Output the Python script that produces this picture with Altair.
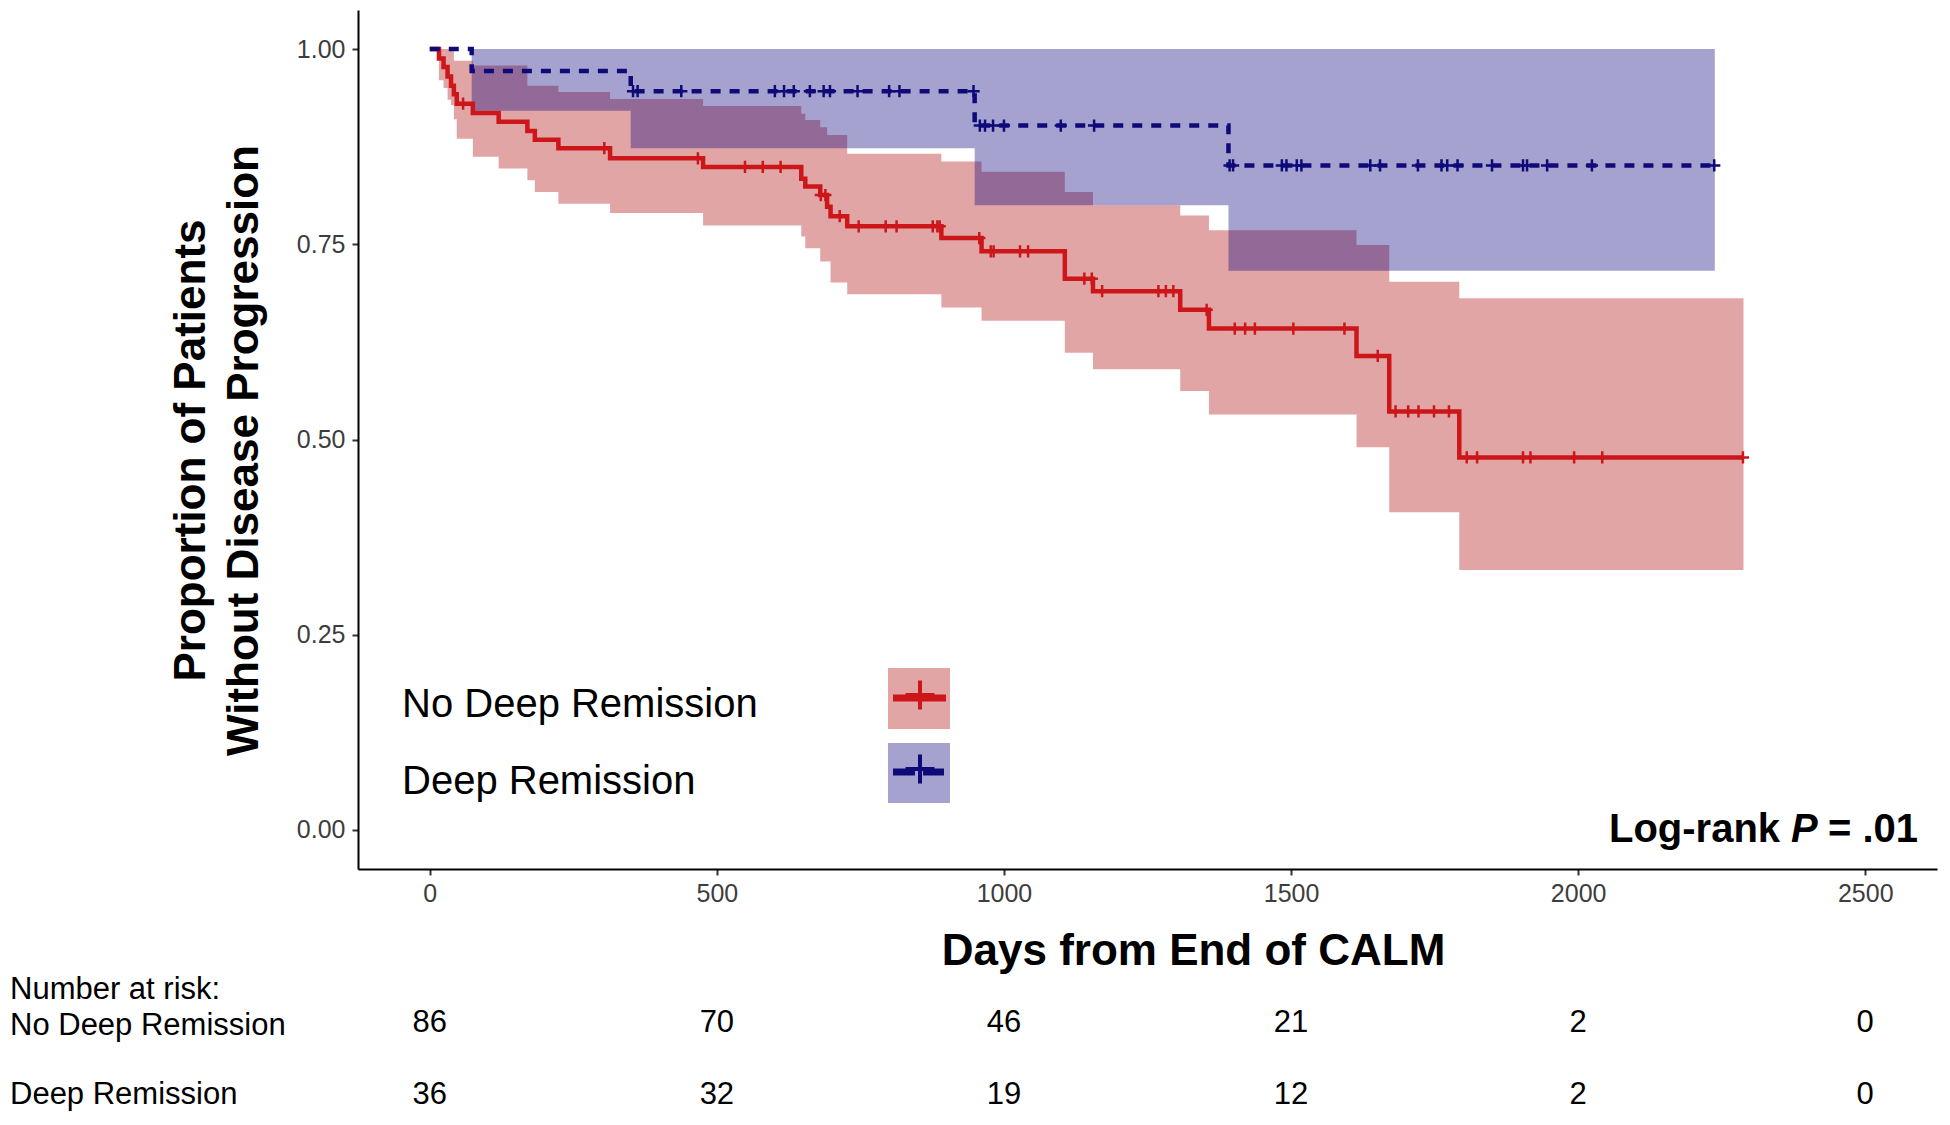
import altair as alt
import numpy as np
import pandas as pd

# ---------------- data ----------------
groups = ["No Deep Remission", "Deep Remission"]

# No Deep Remission: Kaplan-Meier steps (day, survival, CI upper, CI lower)
nd_day = [0, 16, 24, 31, 37, 42, 47, 75, 120, 170, 183, 224, 314, 476, 647, 654, 680, 692, 698, 727,
          891, 961, 1106, 1155, 1307, 1357, 1614, 1671, 1793, 2288]
nd_surv = [1.0, 0.988, 0.977, 0.965, 0.953, 0.942, 0.930, 0.918, 0.907, 0.895, 0.884, 0.873, 0.860, 0.849,
           0.834, 0.824, 0.813, 0.798, 0.786, 0.773, 0.758, 0.741, 0.706, 0.690, 0.666, 0.642, 0.607,
           0.536, 0.477, 0.477]
nd_upper = [1.0, 1.0, 1.0, 1.0, 1.0, 0.985, 0.985, 0.979, 0.979, 0.953, 0.953, 0.945, 0.936, 0.927,
            0.917, 0.909, 0.900, 0.890, 0.890, 0.866, 0.856, 0.843, 0.817, 0.800, 0.787, 0.768, 0.749,
            0.702, 0.681, 0.681]
nd_lower = [1.0, 0.960, 0.950, 0.935, 0.928, 0.910, 0.885, 0.862, 0.847, 0.832, 0.817, 0.802, 0.790,
            0.774, 0.760, 0.745, 0.728, 0.728, 0.701, 0.686, 0.669, 0.652, 0.611, 0.590, 0.562, 0.532,
            0.490, 0.407, 0.333, 0.333]
nd_censor = [58, 304, 467, 549, 580, 611, 681, 689, 714, 747, 794, 813, 876, 884, 888, 957, 977, 982,
             1028, 1042, 1140, 1153, 1171, 1269, 1282, 1295, 1353, 1402, 1420, 1437, 1504, 1593, 1651,
             1682, 1704, 1722, 1749, 1775, 1806, 1824, 1904, 1917, 1993, 2042, 2287]

# Deep Remission
dr_day = [0, 73, 350, 949, 1391, 2238]
dr_surv = [1.0, 0.972, 0.946, 0.902, 0.851, 0.851]
dr_upper = [1.0, 1.0, 1.0, 1.0, 1.0, 1.0]
dr_lower = [1.0, 0.921, 0.873, 0.800, 0.716, 0.716]
dr_censor = [354, 362, 438, 601, 617, 634, 662, 686, 697, 745, 800, 818, 947, 958, 967, 981, 1000,
             1099, 1157, 1393, 1399, 1484, 1492, 1510, 1518, 1638, 1655, 1721, 1762, 1772, 1790, 1850,
             1904, 1911, 1946, 2024, 2237]

# number at risk table
risk_days = [0, 500, 1000, 1500, 2000, 2500]
risk_nd = [86, 70, 46, 21, 2, 0]
risk_dr = [36, 32, 19, 12, 2, 0]

y_ticks = [0.0, 0.25, 0.5, 0.75, 1.0]
y_title = ["Proportion of Patients", "Without Disease Progression"]
x_title = "Days from End of CALM"
risk_header = "Number at risk:"
logrank_parts = ["Log-rank", "P", "= .01"]

# ---------------- styling ----------------
line_colors = ["#CC161A", "#0E0A78"]
band_colors = ["#B00A0A", "#0A0480"]
band_opacity = 0.37
FONT = "Liberation Sans"
W, H = 1579, 859
CROSS = "M-1,0L1,0M0,-1L0,1"
TABLE_FS = 31


def km_frame(days, surv, upper, lower, name):
    return pd.DataFrame({"day": days, "surv": surv, "upper": upper, "lower": lower, "group": name})


def censor_frame(cdays, days, surv, name):
    idx = np.searchsorted(np.array(days), np.array(cdays), side="right") - 1
    return pd.DataFrame({"day": cdays, "surv": np.array(surv)[idx], "group": name})


km_nd = km_frame(nd_day, nd_surv, nd_upper, nd_lower, groups[0])
km_dr = km_frame(dr_day, dr_surv, dr_upper, dr_lower, groups[1])
cz_nd = censor_frame(nd_censor, nd_day, nd_surv, groups[0])
cz_dr = censor_frame(dr_censor, dr_day, dr_surv, groups[1])
risk_df_nd = pd.DataFrame({"day": risk_days, "n": risk_nd})
risk_df_dr = pd.DataFrame({"day": risk_days, "n": risk_dr})

x_scale = alt.Scale(domain=[-125, 2625], nice=False, zero=False)
y_scale = alt.Scale(domain=[-0.05, 1.05], nice=False, zero=False)

x_axis = alt.Axis(
    values=risk_days, format="d", grid=False, title=x_title,
    labelFontSize=25, labelColor="#3D3D3D", labelPadding=6, labelFont=FONT,
    tickSize=6, tickWidth=2, tickColor="#333333", domainColor="black", domainWidth=2,
    titleFontSize=44, titleFontWeight="bold", titleColor="black", titleFont=FONT,
    titleX=835, titleY=95, titleAlign="center", titleBaseline="alphabetic",
)
y_axis = alt.Axis(
    values=y_ticks, format=".2f", grid=False, title=y_title,
    labelFontSize=25, labelColor="#3D3D3D", labelPadding=7, labelFont=FONT,
    tickSize=6, tickWidth=2, tickColor="#333333", domainColor="black", domainWidth=2,
    titleFontSize=44, titleFontWeight="bold", titleColor="black", titleFont=FONT,
    titleAngle=270, titleX=-167, titleY=440, titleAlign="center", titleBaseline="middle",
    titleLineHeight=53,
)

X = alt.X("day:Q", scale=x_scale, axis=x_axis)
Xs = alt.X("day:Q", scale=x_scale)

band_nd = alt.Chart(km_nd).mark_area(interpolate="step-after", color=band_colors[0],
                                     opacity=band_opacity).encode(
    x=X, y=alt.Y("lower:Q", scale=y_scale, axis=y_axis), y2="upper:Q")
band_dr = alt.Chart(km_dr).mark_area(interpolate="step-after", color=band_colors[1],
                                     opacity=band_opacity).encode(
    x=Xs, y=alt.Y("lower:Q", scale=y_scale), y2="upper:Q")

line_nd = alt.Chart(km_nd).mark_line(interpolate="step-after", color=line_colors[0],
                                     strokeWidth=4.5).encode(
    x=Xs, y=alt.Y("surv:Q", scale=y_scale))
line_dr = alt.Chart(km_dr).mark_line(interpolate="step-after", color=line_colors[1],
                                     strokeWidth=4.5, strokeDash=[10, 9]).encode(
    x=Xs, y=alt.Y("surv:Q", scale=y_scale))

cens_nd = alt.Chart(cz_nd).mark_point(shape=CROSS, size=150, filled=False, color=line_colors[0],
                                      strokeWidth=2.5, opacity=1).encode(
    x=Xs, y=alt.Y("surv:Q", scale=y_scale))
cens_dr = alt.Chart(cz_dr).mark_point(shape=CROSS, size=150, filled=False, color=line_colors[1],
                                      strokeWidth=2.5, opacity=1).encode(
    x=Xs, y=alt.Y("surv:Q", scale=y_scale))

# ---------------- legend (inside the panel) ----------------
leg_nd = pd.DataFrame({"group": [groups[0]]})
leg_dr = pd.DataFrame({"group": [groups[1]]})

legend_layers = [
    alt.Chart(leg_nd).mark_rect(color=band_colors[0], opacity=band_opacity).encode(
        x=alt.value(530), x2=alt.value(592), y=alt.value(658), y2=alt.value(719)),
    alt.Chart(leg_dr).mark_rect(color=band_colors[1], opacity=band_opacity).encode(
        x=alt.value(530), x2=alt.value(592), y=alt.value(733), y2=alt.value(793)),
    alt.Chart(leg_nd).mark_rule(color=line_colors[0], strokeWidth=7).encode(
        x=alt.value(535), x2=alt.value(588), y=alt.value(688)),
    alt.Chart(leg_dr).mark_rule(color=line_colors[1], strokeWidth=7, strokeDash=[22, 8]).encode(
        x=alt.value(535), x2=alt.value(586), y=alt.value(762)),
    alt.Chart(leg_nd).mark_point(shape=CROSS, size=841, filled=False, color=line_colors[0],
                                 strokeWidth=4, opacity=1).encode(
        x=alt.value(562), y=alt.value(685)),
    alt.Chart(leg_dr).mark_point(shape=CROSS, size=841, filled=False, color=line_colors[1],
                                 strokeWidth=4, opacity=1).encode(
        x=alt.value(562), y=alt.value(759)),
    alt.Chart(leg_nd).mark_text(align="left", baseline="middle", fontSize=40, color="black").encode(
        x=alt.value(44), y=alt.value(695), text="group:N"),
    alt.Chart(leg_dr).mark_text(align="left", baseline="middle", fontSize=40, color="black").encode(
        x=alt.value(44), y=alt.value(772), text="group:N"),
]

# ---------------- log-rank annotation ----------------
lr = [pd.DataFrame({"t": [p]}) for p in logrank_parts]
logrank_layers = [
    alt.Chart(lr[0]).mark_text(align="left", baseline="alphabetic", fontSize=40, fontWeight="bold",
                               color="black").encode(x=alt.value(1251), y=alt.value(832), text="t:N"),
    alt.Chart(lr[1]).mark_text(align="left", baseline="alphabetic", fontSize=40, fontWeight="bold",
                               fontStyle="italic", color="black").encode(
        x=alt.value(1433), y=alt.value(832), text="t:N"),
    alt.Chart(lr[2]).mark_text(align="left", baseline="alphabetic", fontSize=40, fontWeight="bold",
                               color="black").encode(x=alt.value(1470), y=alt.value(832), text="t:N"),
]

# ---------------- number at risk table ----------------
hdr = pd.DataFrame({"t": [risk_header]})
risk_layers = [
    alt.Chart(hdr).mark_text(align="left", baseline="middle", fontSize=TABLE_FS, color="black").encode(
        x=alt.value(-348), y=alt.value(980), text="t:N"),
    alt.Chart(leg_nd).mark_text(align="left", baseline="middle", fontSize=TABLE_FS, color="black").encode(
        x=alt.value(-348), y=alt.value(1016), text="group:N"),
    alt.Chart(leg_dr).mark_text(align="left", baseline="middle", fontSize=TABLE_FS, color="black").encode(
        x=alt.value(-348), y=alt.value(1085), text="group:N"),
    alt.Chart(risk_df_nd).mark_text(align="center", baseline="middle", fontSize=TABLE_FS,
                                    color="black").encode(
        x=Xs, y=alt.value(1013), text="n:Q"),
    alt.Chart(risk_df_dr).mark_text(align="center", baseline="middle", fontSize=TABLE_FS,
                                    color="black").encode(
        x=Xs, y=alt.value(1085), text="n:Q"),
]

chart = alt.layer(
    band_nd, band_dr, line_nd, line_dr, cens_nd, cens_dr,
    *legend_layers, *logrank_layers, *risk_layers,
).properties(
    width=W, height=H,
    autosize=alt.AutoSizeParams(type="none"),
    padding={"left": 350, "top": 2, "right": 5, "bottom": 245},
).configure(font=FONT, background="white").configure_view(stroke=None)

chart.save("out.html", embed_options={"renderer": "svg", "actions": False})
